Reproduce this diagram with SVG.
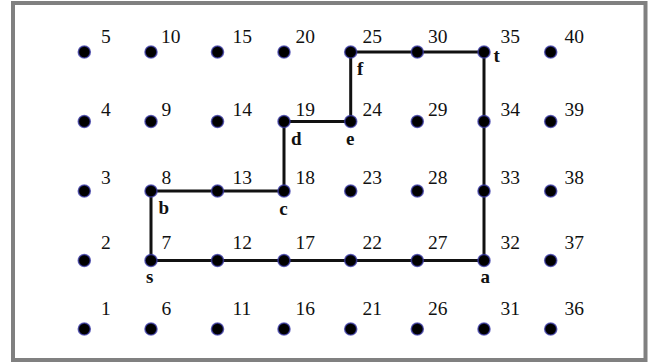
<svg xmlns="http://www.w3.org/2000/svg" width="652" height="362" viewBox="0 0 652 362">
<style>
.dot{fill:#000;stroke:#3b3ba8;stroke-width:1.6;stroke-opacity:0.75}
.num{font-family:"Liberation Serif","Times New Roman",serif;font-size:19.5px;fill:#111}
.let{font-family:"Liberation Serif","Times New Roman",serif;font-size:19px;font-weight:bold;fill:#111}
.edge{fill:none;stroke:#111;stroke-width:3;stroke-linejoin:miter}
</style>
<rect x="13" y="3" width="632.5" height="357" fill="#fff" stroke="#808080" stroke-width="4"/>
<g id="connectors">
<polyline class="edge" points="151,260.5 151,191 217.5,191 284,191 284,121.5 350.7,121.5 350.7,52 417.3,52 484,52 484,121.5 484,191 484,260.5 417.3,260.5 350.7,260.5 284,260.5 217.5,260.5 151,260.5"/>
</g>
<g id="n1"><circle class="dot" cx="84.3" cy="329" r="6"/><text class="num" x="101" y="315">1</text></g>
<g id="n2"><circle class="dot" cx="84.3" cy="260.5" r="6"/><text class="num" x="101" y="249.3">2</text></g>
<g id="n3"><circle class="dot" cx="84.3" cy="191" r="6"/><text class="num" x="101" y="184.3">3</text></g>
<g id="n4"><circle class="dot" cx="84.3" cy="121.5" r="6"/><text class="num" x="101" y="115.7">4</text></g>
<g id="n5"><circle class="dot" cx="84.3" cy="52" r="6"/><text class="num" x="101" y="42.5">5</text></g>
<g id="n6"><circle class="dot" cx="151" cy="329" r="6"/><text class="num" x="161.5" y="315">6</text></g>
<g id="n7"><circle class="dot" cx="151" cy="260.5" r="6"/><text class="num" x="161.5" y="249.3">7</text><text class="let" x="146" y="282.7">s</text></g>
<g id="n8"><circle class="dot" cx="151" cy="191" r="6"/><text class="num" x="161.5" y="184.3">8</text><text class="let" x="158.5" y="214.3">b</text></g>
<g id="n9"><circle class="dot" cx="151" cy="121.5" r="6"/><text class="num" x="161.5" y="115.7">9</text></g>
<g id="n10"><circle class="dot" cx="151" cy="52" r="6"/><text class="num" x="161" y="42.5">10</text></g>
<g id="n11"><circle class="dot" cx="217.5" cy="329" r="6"/><text class="num" x="232.5" y="315">11</text></g>
<g id="n12"><circle class="dot" cx="217.5" cy="260.5" r="6"/><text class="num" x="232.5" y="249.3">12</text></g>
<g id="n13"><circle class="dot" cx="217.5" cy="191" r="6"/><text class="num" x="232.5" y="184.3">13</text></g>
<g id="n14"><circle class="dot" cx="217.5" cy="121.5" r="6"/><text class="num" x="232.5" y="115.7">14</text></g>
<g id="n15"><circle class="dot" cx="217.5" cy="52" r="6"/><text class="num" x="232.5" y="42.5">15</text></g>
<g id="n16"><circle class="dot" cx="284" cy="329" r="6"/><text class="num" x="295.5" y="315">16</text></g>
<g id="n17"><circle class="dot" cx="284" cy="260.5" r="6"/><text class="num" x="295.5" y="249.3">17</text></g>
<g id="n18"><circle class="dot" cx="284" cy="191" r="6"/><text class="num" x="295.5" y="184.3">18</text><text class="let" x="279.3" y="215">c</text></g>
<g id="n19"><circle class="dot" cx="284" cy="121.5" r="6"/><text class="num" x="295.5" y="115.7">19</text><text class="let" x="291" y="144.5">d</text></g>
<g id="n20"><circle class="dot" cx="284" cy="52" r="6"/><text class="num" x="295.5" y="42.5">20</text></g>
<g id="n21"><circle class="dot" cx="350.7" cy="329" r="6"/><text class="num" x="362.5" y="315">21</text></g>
<g id="n22"><circle class="dot" cx="350.7" cy="260.5" r="6"/><text class="num" x="362.5" y="249.3">22</text></g>
<g id="n23"><circle class="dot" cx="350.7" cy="191" r="6"/><text class="num" x="362.5" y="184.3">23</text></g>
<g id="n24"><circle class="dot" cx="350.7" cy="121.5" r="6"/><text class="num" x="362.5" y="115.7">24</text><text class="let" x="346" y="144.5">e</text></g>
<g id="n25"><circle class="dot" cx="350.7" cy="52" r="6"/><text class="num" x="362.5" y="42.5">25</text><text class="let" x="357" y="75">f</text></g>
<g id="n26"><circle class="dot" cx="417.3" cy="329" r="6"/><text class="num" x="428" y="315">26</text></g>
<g id="n27"><circle class="dot" cx="417.3" cy="260.5" r="6"/><text class="num" x="428" y="249.3">27</text></g>
<g id="n28"><circle class="dot" cx="417.3" cy="191" r="6"/><text class="num" x="428" y="184.3">28</text></g>
<g id="n29"><circle class="dot" cx="417.3" cy="121.5" r="6"/><text class="num" x="428" y="115.7">29</text></g>
<g id="n30"><circle class="dot" cx="417.3" cy="52" r="6"/><text class="num" x="428" y="42.5">30</text></g>
<g id="n31"><circle class="dot" cx="484" cy="329" r="6"/><text class="num" x="500.5" y="315">31</text></g>
<g id="n32"><circle class="dot" cx="484" cy="260.5" r="6"/><text class="num" x="500.5" y="249.3">32</text><text class="let" x="480.5" y="282.7">a</text></g>
<g id="n33"><circle class="dot" cx="484" cy="191" r="6"/><text class="num" x="500.5" y="184.3">33</text></g>
<g id="n34"><circle class="dot" cx="484" cy="121.5" r="6"/><text class="num" x="500.5" y="115.7">34</text></g>
<g id="n35"><circle class="dot" cx="484" cy="52" r="6"/><text class="num" x="500.5" y="42.5">35</text><text class="let" x="493.5" y="61.7">t</text></g>
<g id="n36"><circle class="dot" cx="550.7" cy="329" r="6"/><text class="num" x="564.5" y="315">36</text></g>
<g id="n37"><circle class="dot" cx="550.7" cy="260.5" r="6"/><text class="num" x="564.5" y="249.3">37</text></g>
<g id="n38"><circle class="dot" cx="550.7" cy="191" r="6"/><text class="num" x="564.5" y="184.3">38</text></g>
<g id="n39"><circle class="dot" cx="550.7" cy="121.5" r="6"/><text class="num" x="564.5" y="115.7">39</text></g>
<g id="n40"><circle class="dot" cx="550.7" cy="52" r="6"/><text class="num" x="564.5" y="42.5">40</text></g>
</svg>
